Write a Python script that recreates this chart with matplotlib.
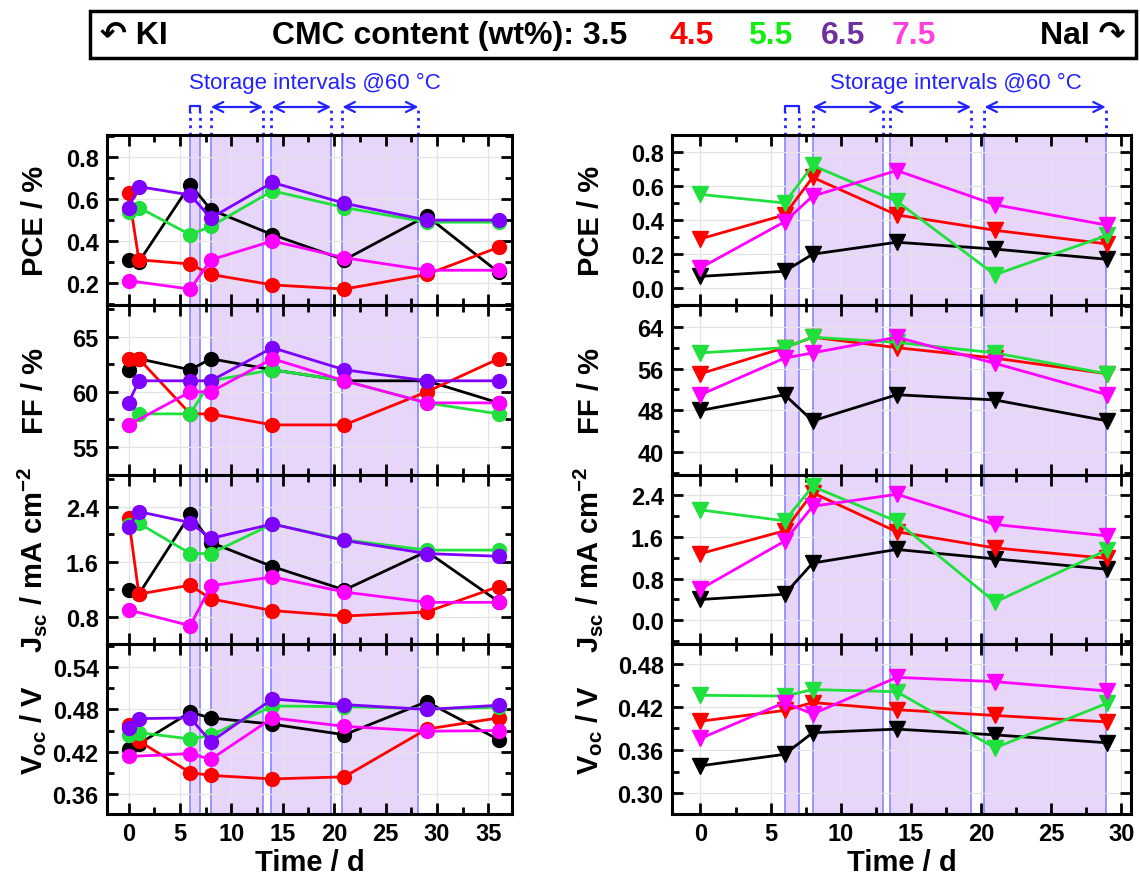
import numpy as np
import matplotlib
matplotlib.use("Agg")
import matplotlib.pyplot as plt
from matplotlib.patches import Rectangle
from matplotlib.ticker import MultipleLocator, FormatStrFormatter

plt.rcParams['font.family'] = ['Liberation Sans', 'DejaVu Sans']
plt.rcParams['font.weight'] = 'bold'
plt.rcParams['mathtext.fontset'] = 'custom'
plt.rcParams['mathtext.rm'] = 'Liberation Sans:bold'
plt.rcParams['mathtext.it'] = 'Liberation Sans:bold'
plt.rcParams['mathtext.bf'] = 'Liberation Sans:bold'
plt.rcParams['axes.unicode_minus'] = False

# ---- data: KI electrolyte (left column) ----
x_ki = [0, 1, 6, 8, 14, 21, 29, 36]
x_ki_75 = [0, 6, 8, 14, 21, 29, 36]  # 7.5 wt% has no day-1 point

ki_pce = {
    '3.5': [0.31, 0.30, 0.67, 0.55, 0.43, 0.31, 0.52, 0.25],
    '4.5': [0.63, 0.31, 0.29, 0.24, 0.19, 0.17, 0.24, 0.37],
    '5.5': [0.54, 0.56, 0.43, 0.47, 0.64, 0.56, 0.49, 0.49],
    '6.5': [0.56, 0.66, 0.62, 0.51, 0.68, 0.58, 0.50, 0.50],
    '7.5': [0.21, 0.17, 0.31, 0.40, 0.32, 0.26, 0.26],
}
ki_ff = {
    '3.5': [62, 63, 62, 63, 62, 61, 61, 59],
    '4.5': [63, 63, 58, 58, 57, 57, 60, 63],
    '5.5': [57, 58, 58, 61, 62, 61, 59, 58],
    '6.5': [59, 61, 61, 61, 64, 62, 61, 61],
    '7.5': [57, 60, 60, 63, 61, 59, 59],
}
ki_jsc = {
    '3.5': [1.19, 1.13, 2.29, 1.88, 1.53, 1.19, 1.75, 1.02],
    '4.5': [2.23, 1.13, 1.26, 1.06, 0.89, 0.81, 0.87, 1.24],
    '5.5': [2.13, 2.16, 1.72, 1.72, 2.15, 1.92, 1.77, 1.77],
    '6.5': [2.11, 2.33, 2.17, 1.94, 2.15, 1.91, 1.72, 1.68],
    '7.5': [0.90, 0.67, 1.25, 1.38, 1.16, 1.01, 1.01],
}
ki_voc = {
    '3.5': [0.424, 0.431, 0.476, 0.468, 0.459, 0.444, 0.491, 0.437],
    '4.5': [0.458, 0.435, 0.390, 0.386, 0.381, 0.384, 0.452, 0.468],
    '5.5': [0.444, 0.447, 0.438, 0.443, 0.485, 0.484, 0.481, 0.483],
    '6.5': [0.453, 0.467, 0.468, 0.434, 0.495, 0.487, 0.480, 0.486],
    '7.5': [0.413, 0.417, 0.409, 0.468, 0.456, 0.449, 0.450],
}

# ---- data: NaI electrolyte (right column) ----
x_nai = [0, 6, 8, 14, 21, 29]
nai_pce = {
    '3.5': [0.07, 0.10, 0.20, 0.27, 0.23, 0.17],
    '4.5': [0.29, 0.43, 0.65, 0.43, 0.34, 0.26],
    '5.5': [0.55, 0.50, 0.72, 0.51, 0.08, 0.31],
    '7.5': [0.12, 0.39, 0.54, 0.69, 0.49, 0.37],
}
nai_ff = {
    '3.5': [48, 51, 46, 51, 50, 46],
    '4.5': [55, 60, 62, 60, 58, 55],
    '5.5': [59, 60, 62, 61, 59, 55],
    '7.5': [51, 58, 59, 62, 57, 51],
}
nai_jsc = {
    '3.5': [0.40, 0.50, 1.10, 1.36, 1.18, 0.98],
    '4.5': [1.28, 1.72, 2.45, 1.70, 1.39, 1.19],
    '5.5': [2.12, 1.91, 2.57, 1.90, 0.35, 1.35],
    '7.5': [0.60, 1.52, 2.19, 2.42, 1.84, 1.62],
}
nai_voc = {
    '3.5': [0.338, 0.354, 0.384, 0.389, 0.381, 0.370],
    '4.5': [0.400, 0.415, 0.426, 0.416, 0.408, 0.399],
    '5.5': [0.436, 0.435, 0.444, 0.441, 0.363, 0.425],
    '7.5': [0.376, 0.426, 0.410, 0.461, 0.455, 0.442],
}

# storage intervals @60 degC (day ranges)
ki_storage = [(6.0, 6.9), (8.0, 13.1), (13.9, 19.7), (20.8, 28.2)]
nai_storage = [(6.0, 7.0), (8.0, 13.0), (13.5, 19.3), (20.25, 28.9)]

contents = ['3.5', '4.5', '5.5', '6.5', '7.5']
line_colors = {'3.5': 'black', '4.5': '#ff0000', '5.5': '#1fe03c',
               '6.5': '#7f00ff', '7.5': '#ff00ff'}
text_colors = ['black', '#ff0000', '#11ee11', '#7030a0', '#ff40dd']

ylabels = ['PCE / %', 'FF / %', r'J$_{\rm sc}$ / mA cm$^{-2}$', r'V$_{\rm oc}$ / V']

BLUE = '#2222ff'
FILL = '#e8d5fa'
EDGE = '#8888ff'

fig = plt.figure(figsize=(11.4, 8.79), dpi=100)

H = 1140.0
V = 879.0
panel_h = (815 - 136) / 4.0


def make_column(x0, x1, ylab_x):
    axes = []
    for i in range(4):
        top = 136 + i * panel_h
        ax = fig.add_axes([x0 / H, 1 - (top + panel_h) / V, (x1 - x0) / H, panel_h / V])
        axes.append(ax)
        ax.yaxis.set_label_coords(ylab_x, 0.5)
    return axes


left_axes = make_column(107, 512, -0.143)
right_axes = make_column(672, 1131, -0.146)


def style(ax, xlim, ylim, ymaj, ymin, fmt, bottom):
    ax.set_xlim(*xlim)
    ax.set_ylim(*ylim)
    ax.xaxis.set_major_locator(MultipleLocator(5))
    ax.xaxis.set_minor_locator(MultipleLocator(2.5))
    ax.yaxis.set_major_locator(MultipleLocator(ymaj))
    ax.yaxis.set_minor_locator(MultipleLocator(ymin))
    ax.yaxis.set_major_formatter(FormatStrFormatter(fmt))
    ax.tick_params(which='both', direction='in', top=True, right=True, width=2)
    ax.tick_params(which='major', length=8, labelsize=17, pad=6)
    ax.tick_params(which='minor', length=5)
    ax.grid(True, which='major', color='#e4e4e4', lw=0.9, zorder=0)
    for s in ax.spines.values():
        s.set_linewidth(2.2)
    if not bottom:
        ax.tick_params(labelbottom=False)
    for lab in ax.get_xticklabels() + ax.get_yticklabels():
        lab.set_fontweight('bold')


def shade(ax, bands):
    for a, b in bands:
        ax.axvspan(a, b, color=FILL, zorder=0.5, lw=0)
        ax.axvline(a, color=EDGE, lw=1.2, zorder=0.6)
        ax.axvline(b, color=EDGE, lw=1.2, zorder=0.6)


def annotate_top(ax, bands, xtext, y_arrow, y_text):
    tr = ax.get_xaxis_transform()
    a, b = bands[0]
    for xx in (a, b):
        ax.plot([xx, xx], [1.0, y_arrow - 0.03], ls=':', color=BLUE, lw=2,
                transform=tr, clip_on=False)
    ax.plot([a, a, b, b], [y_arrow - 0.03, y_arrow + 0.005, y_arrow + 0.005, y_arrow - 0.03],
            color=BLUE, lw=1.6, transform=tr, clip_on=False)
    for a, b in bands[1:]:
        for xx in (a, b):
            ax.plot([xx, xx], [1.0, y_arrow], ls=':', color=BLUE, lw=2,
                    transform=tr, clip_on=False)
        ax.annotate('', xy=(b, y_arrow), xytext=(a, y_arrow), xycoords=tr,
                    textcoords=tr, annotation_clip=False,
                    arrowprops=dict(arrowstyle='<->', color=BLUE, lw=1.6,
                                    mutation_scale=18, shrinkA=0, shrinkB=0))
    ax.text(xtext, y_text, 'Storage intervals @60 °C', transform=tr, color=BLUE,
            fontsize=16, fontweight='normal', ha='center', va='center')


def draw(ax, xs_default, series, marker, ms):
    for c in contents:
        if c not in series:
            continue
        ys = series[c]
        xs = xs_default if len(ys) == len(xs_default) else x_ki_75
        ax.plot(xs, ys, color=line_colors[c], lw=2, marker=marker, ms=ms,
                zorder=3, clip_on=False)


ki_sets = [ki_pce, ki_ff, ki_jsc, ki_voc]
nai_sets = [nai_pce, nai_ff, nai_jsc, nai_voc]

ki_ylims = [(0.095, 0.907), (52.5, 67.9), (0.40, 2.87), (0.331, 0.573)]
ki_ticks = [(0.2, 0.1, '%.1f'), (5, 2.5, '%d'), (0.8, 0.4, '%.1f'), (0.06, 0.03, '%.2f')]
nai_ylims = [(-0.096, 0.898), (35.75, 68.2), (-0.46, 2.8), (0.271, 0.507)]
nai_ticks = [(0.2, 0.1, '%.1f'), (8, 4, '%d'), (0.8, 0.4, '%.1f'), (0.06, 0.03, '%.2f')]

for i, ax in enumerate(left_axes):
    style(ax, (-2.1, 37.3), ki_ylims[i], *ki_ticks[i], bottom=(i == 3))
    shade(ax, ki_storage)
    draw(ax, x_ki, ki_sets[i], 'o', 10)
    ax.set_ylabel(ylabels[i], fontsize=21, fontweight='bold')

for i, ax in enumerate(right_axes):
    style(ax, (-2.03, 30.7), nai_ylims[i], *nai_ticks[i], bottom=(i == 3))
    shade(ax, nai_storage)
    draw(ax, x_nai, nai_sets[i], 'v', 11)
    ax.set_ylabel(ylabels[i], fontsize=21, fontweight='bold')

left_axes[3].set_xlabel('Time / d', fontsize=21, fontweight='bold', labelpad=2)
right_axes[3].set_xlabel('Time / d', fontsize=21, fontweight='bold', labelpad=2)

annotate_top(left_axes[0], ki_storage, 18.1, 1.165, 1.31)
annotate_top(right_axes[0], nai_storage, 18.2, 1.165, 1.31)

# ---- header legend box ----
fig.patches.append(Rectangle((90 / H, 1 - 59 / V), (1136 - 90) / H, 47 / V,
                             transform=fig.transFigure, fill=False, lw=2.5,
                             edgecolor='black'))
ty = 1 - 36 / V
fig.text(100 / H, ty, '↶ KI', fontsize=23, fontweight='bold', va='center', ha='left')
fig.text(272 / H, ty, 'CMC content (wt%): 3.5', fontsize=23, fontweight='bold',
         va='center', ha='left')
label_x = [692, 770, 843, 914]
for c, col, xx in zip(contents[1:], text_colors[1:], label_x):
    fig.text(xx / H, ty, c, color=col, fontsize=23, fontweight='bold',
             va='center', ha='center')
fig.text(1126 / H, ty, 'NaI ↷', fontsize=23, fontweight='bold', va='center', ha='right')

fig.savefig('out.png', dpi=100)
